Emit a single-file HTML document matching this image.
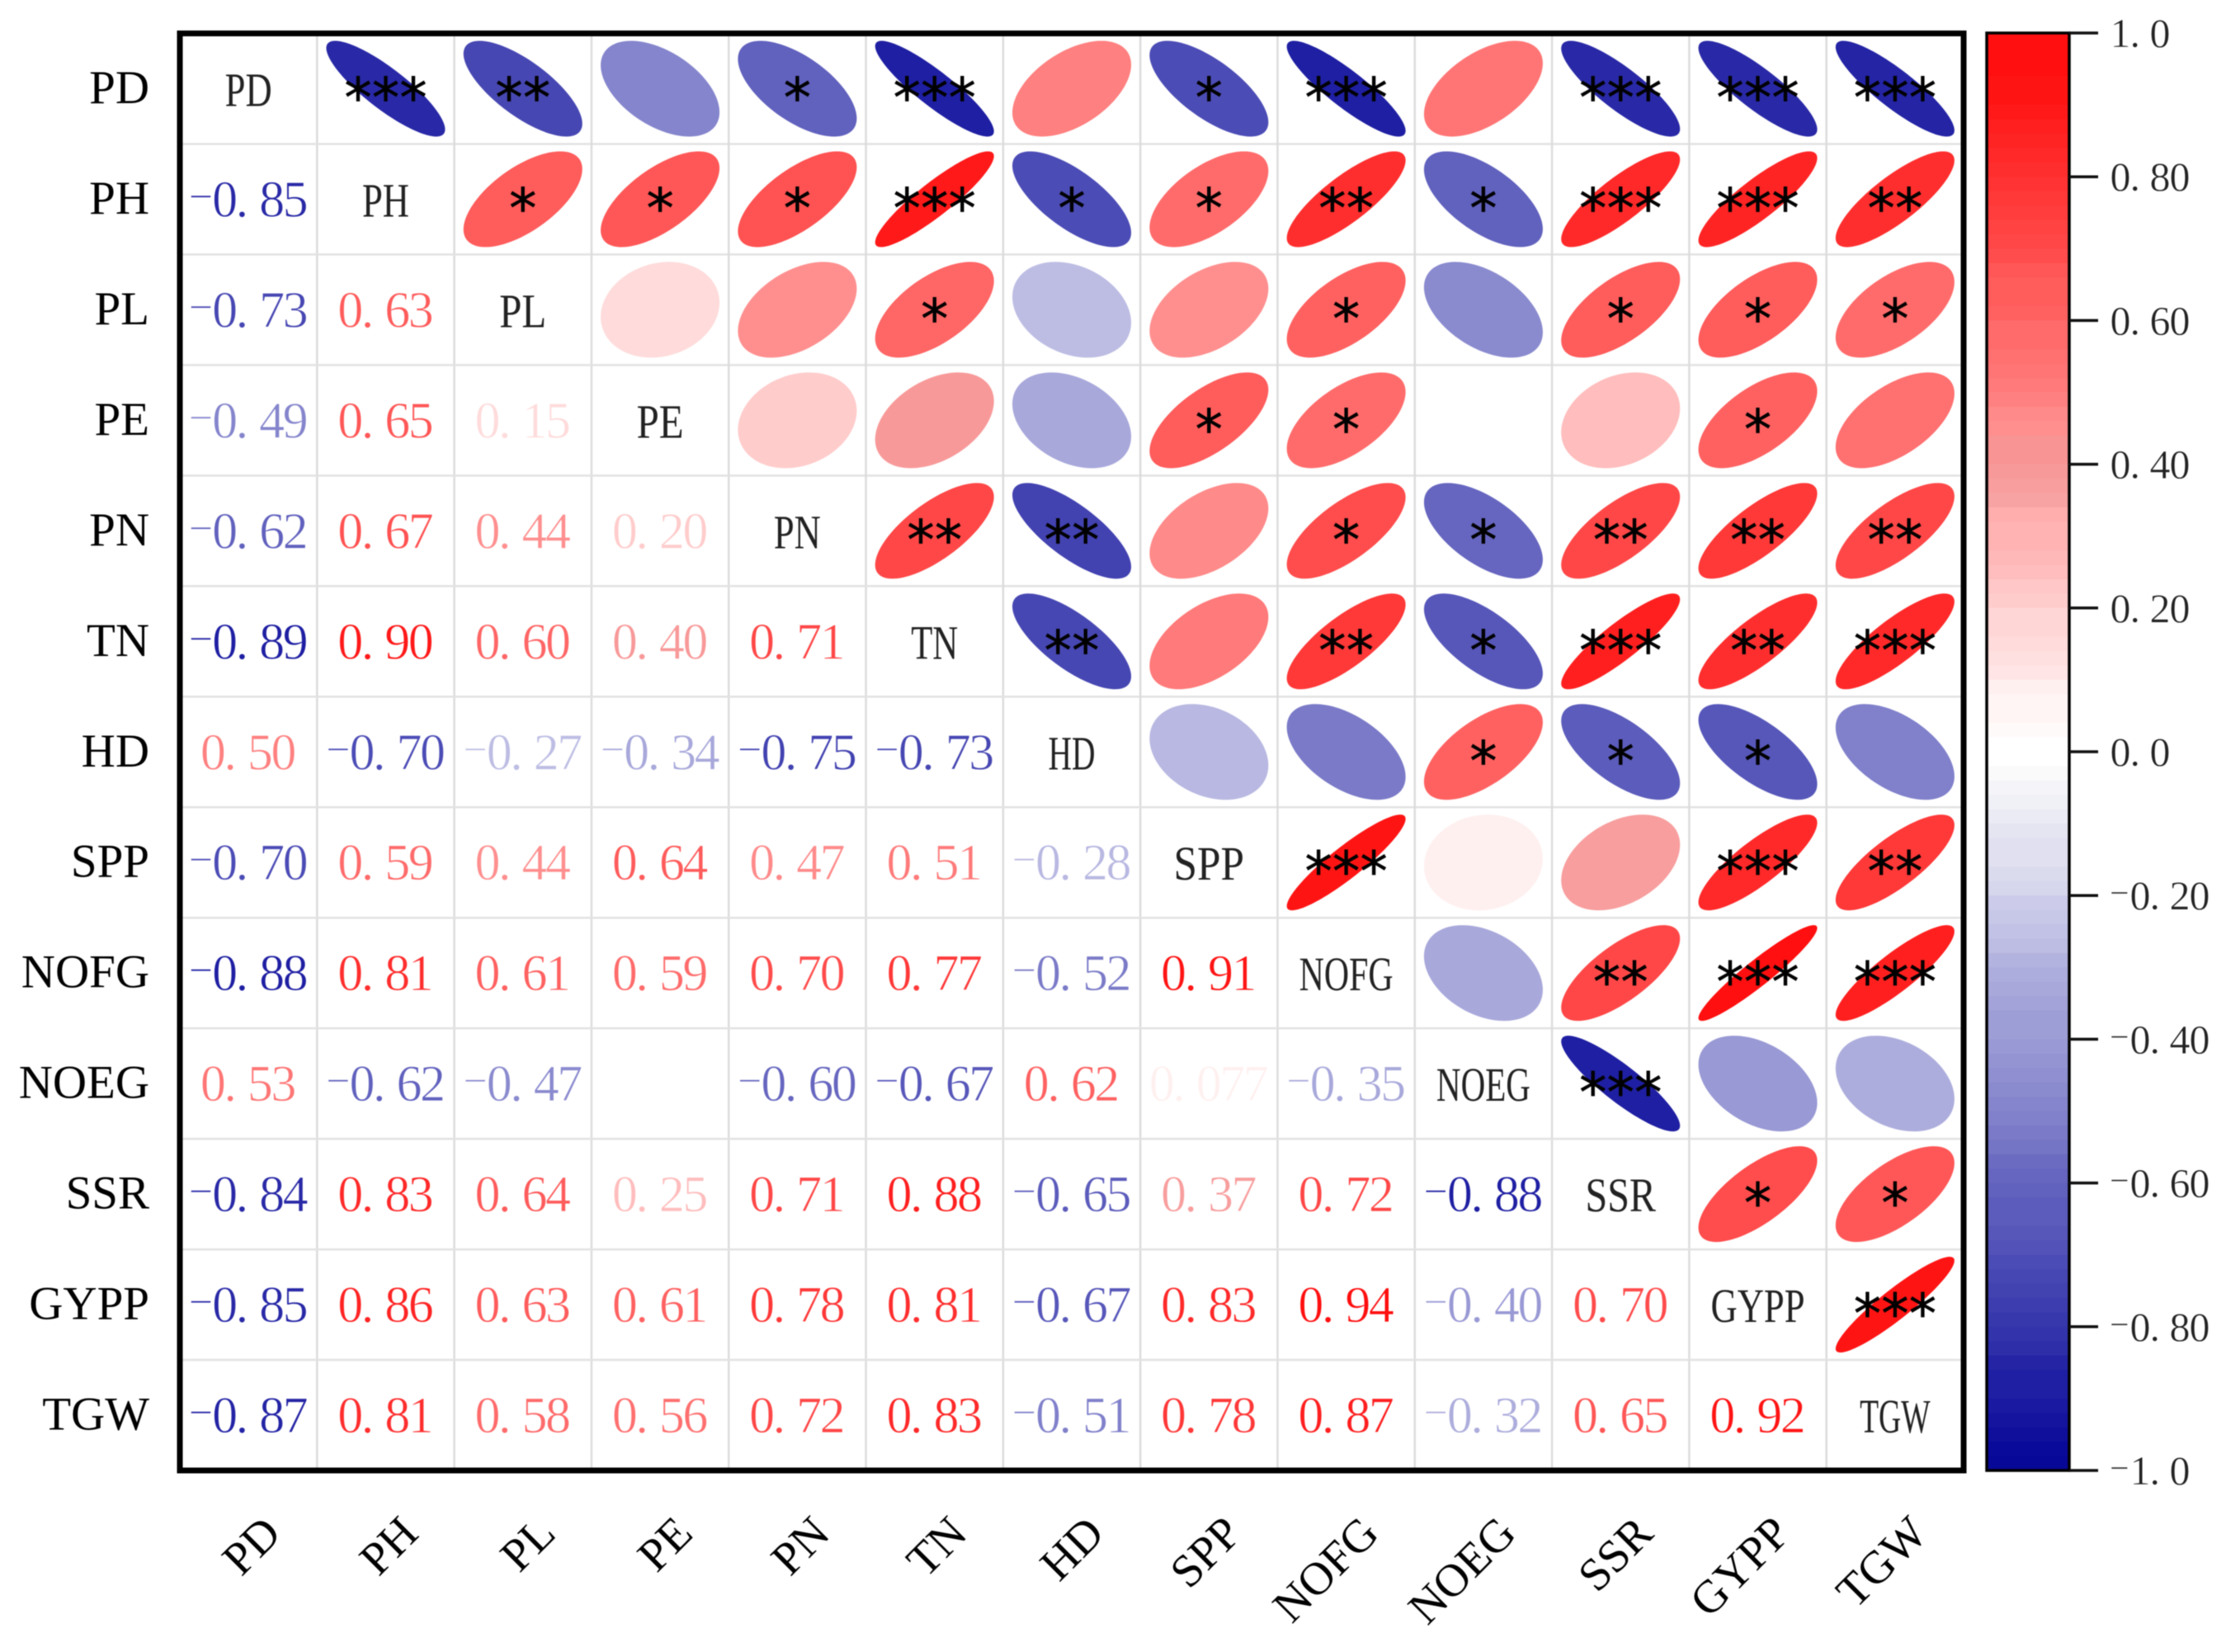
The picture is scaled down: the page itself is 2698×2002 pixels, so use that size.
<!DOCTYPE html>
<html lang="en">
<head>
<meta charset="utf-8">
<title>Correlation matrix</title>
<style>
html,body{margin:0;padding:0;background:#fff;}
#chart{display:block;width:2698px;height:2002px;filter:blur(0.6px);}
text{font-family:"Liberation Serif","Noto Serif CJK SC",serif;}
.stars{font-family:"DejaVu Sans","Liberation Sans",sans-serif;}
</style>
</head>
<body>
<svg id="chart" xmlns="http://www.w3.org/2000/svg" width="2698" height="2002" viewBox="0 0 2698 2002">
  <rect x="0" y="0" width="2698" height="2002" fill="#ffffff"/>
  <g id="grid"></g>
  <g id="ellipses"></g>
  <g id="stars"></g>
  <g id="cells"></g>
  <g id="diag"></g>
  <rect x="218" y="40.5" width="2162" height="1741.5" fill="none" stroke="#000" stroke-width="7"/>
  <g id="yaxis"></g>
  <g id="xaxis"></g>
  <g id="colorbar"></g>
</svg>
<script>
const categories = ["PD","PH","PL","PE","PN","TN","HD","SPP","NOFG","NOEG","SSR","GYPP","TGW"];
const correlations = [
  [],
  [-0.85],
  [-0.73,0.63],
  [-0.49,0.65,0.15],
  [-0.62,0.67,0.44,0.20],
  [-0.89,0.90,0.60,0.40,0.71],
  [0.50,-0.70,-0.27,-0.34,-0.75,-0.73],
  [-0.70,0.59,0.44,0.64,0.47,0.51,-0.28],
  [-0.88,0.81,0.61,0.59,0.70,0.77,-0.52,0.91],
  [0.53,-0.62,-0.47,0.00,-0.60,-0.67,0.62,0.077,-0.35],
  [-0.84,0.83,0.64,0.25,0.71,0.88,-0.65,0.37,0.72,-0.88],
  [-0.85,0.86,0.63,0.61,0.78,0.81,-0.67,0.83,0.94,-0.40,0.70],
  [-0.87,0.81,0.58,0.56,0.72,0.83,-0.51,0.78,0.87,-0.32,0.65,0.92]
];
const significance = [
  ["","***","**","","*","***","","*","***","","***","***","***"],
  ["","","*","*","*","***","*","*","**","*","***","***","**"],
  ["","","","","","*","","","*","","*","*","*"],
  ["","","","","","","","*","*","","","*",""],
  ["","","","","","**","**","","*","*","**","**","**"],
  ["","","","","","","**","","**","*","***","**","***"],
  ["","","","","","","","","","*","*","*",""],
  ["","","","","","","","","***","","","***","**"],
  ["","","","","","","","","","","**","***","***"],
  ["","","","","","","","","","","***","",""],
  ["","","","","","","","","","","","*","*"],
  ["","","","","","","","","","","","","***"],
  ["","","","","","","","","","","","",""]
];
const colorbarTicks = [1.0,0.8,0.6,0.4,0.2,0.0,-0.2,-0.4,-0.6,-0.8,-1.0];
const colorbarTickLabels = ["1.0","0.80","0.60","0.40","0.20","0.0","-0.20","-0.40","-0.60","-0.80","-1.0"];

const NS = "http://www.w3.org/2000/svg";
const PLOT = {l:218, t:40.5, r:2380, b:1782};
const BAR = {l:2408, r:2508, t:40, b:1782};
const n = categories.length;
const cellW = (PLOT.r - PLOT.l) / n;
const cellH = (PLOT.b - PLOT.t) / n;
function xCenter(i){ return PLOT.l + cellW * (i + 0.5); }
function yCenter(i){ return PLOT.t + cellH * (i + 0.5); }
function barY(v){ return BAR.t + (1 - v) / 2 * (BAR.b - BAR.t); }
function colorOf(v){
  const lv = Math.round(v / 0.02) * 0.02;
  const a = Math.min(1, Math.abs(lv));
  const base = a <= 0.03 ? 255 : 255 * (1 - a) + (a < 0.2 ? 5 : 0);
  if (lv >= 0) {
    const g = Math.round(Math.max(15, base));
    const r = (a >= 0.36 && a <= 0.42) ? 248 : 255;
    return "rgb(" + r + "," + g + "," + g + ")";
  }
  const c = Math.round(Math.max(8, base));
  const b = Math.round(255 - 105 * a);
  return "rgb(" + c + "," + c + "," + b + ")";
}
function make(tag, attrs, parent){
  const el = document.createElementNS(NS, tag);
  for (const k in attrs) el.setAttribute(k, attrs[k]);
  parent.appendChild(el);
  return el;
}
function valueLabel(v){
  const a = Math.abs(v);
  return a > 0 && a < 0.1 ? a.toPrecision(2) : a.toFixed(2);
}
/* monospaced number layout with a small raised minus sign */
function fillNumber(el, negative, digits, startX, adv, size, off, minusSize, minusDy){
  let i = 0;
  if (negative) {
    const m = make("tspan", {x:startX - 1, "font-size":minusSize, dy:-minusDy}, el);
    m.textContent = "\u2212";
    i = 1;
  }
  const xs = [];
  for (let k = 0; k < digits.length; k++) xs.push(startX + (i + k) * adv + off);
  const d = make("tspan", {x:xs.join(" "), "font-size":size, dy:negative ? minusDy : 0}, el);
  d.textContent = digits;
}

const gridG = document.getElementById("grid");
for (let i = 1; i < n; i++) {
  const vl = make("line", {x1:PLOT.l + cellW * i, x2:PLOT.l + cellW * i, y1:PLOT.t, y2:PLOT.b, stroke:"#dcdcdc", "stroke-width":2.5}, gridG);
  
  
  const hl = make("line", {x1:PLOT.l, x2:PLOT.r, y1:PLOT.t + cellH * i, y2:PLOT.t + cellH * i, stroke:"#e2e2e2", "stroke-width":2.5}, gridG);
  
  
}

const ellG = document.getElementById("ellipses");
const starG = document.getElementById("stars");
const cellG = document.getElementById("cells");
const diagG = document.getElementById("diag");
const RX = 72, RY = 58;
for (let row = 0; row < n; row++) {
  for (let col = 0; col < n; col++) {
    const cx = xCenter(col), cy = yCenter(row);
    if (row === col) {
      const w = categories[row].length * 28.5;
      const t = make("text", {x:cx - w / 2, y:cy + 21, "font-size":58, fill:"#222", textLength:w, lengthAdjust:"spacingAndGlyphs"}, diagG);
      
      
      t.textContent = categories[row];
    } else if (row > col) {
      const v = correlations[row][col];
      const digits = valueLabel(v);
      const chars = digits.length + (v < 0 ? 1 : 0);
      const startX = cx - chars * 28.5 / 2;
      const t = make("text", {y:cy + 21, fill:colorOf(v), stroke:"#fff", "stroke-width":0.7}, cellG);
      
      
      fillNumber(t, v < 0, digits, startX, 28.5, 62, -1.25, 52, 7);
    } else {
      const v = correlations[col][row];
      const d = Math.acos(v);
      const pts = [];
      for (let k = 0; k < 120; k++) {
        const a = k / 120 * 2 * Math.PI;
        pts.push((cx + RX * Math.cos(a + d / 2)).toFixed(2) + "," + (cy - RY * Math.cos(a - d / 2)).toFixed(2));
      }
      const p = make("polygon", {points:pts.join(" "), fill:colorOf(v)}, ellG);
      
      
      const s = significance[row][col];
      if (s) {
        const xs = [];
        for (let k = 0; k < s.length; k++) xs.push(cx + (k - (s.length - 1) / 2) * 33.5 - 16.5);
        const st = make("text", {x:xs.join(" "), y:cy + 34, "font-size":66, fill:"#000", stroke:"#000", "stroke-width":0.7, class:"stars"}, starG);
        
        
        st.textContent = s;
      }
    }
  }
}

const yG = document.getElementById("yaxis");
const xG = document.getElementById("xaxis");
categories.forEach(function(name, i){
  const yl = make("text", {x:181, y:yCenter(i) + 17.5, "font-size":57, "text-anchor":"end", fill:"#000"}, yG);
  
  
  yl.textContent = name;
  const bx = xCenter(i) + 42, by = 1861;
  const xl = make("text", {x:bx, y:by, "font-size":56, "text-anchor":"end", fill:"#000", transform:"rotate(-45 " + bx + " " + by + ")"}, xG);
  
  
  xl.textContent = name;
});

const barG = document.getElementById("colorbar");
const LEVELS = 100;
for (let i = 0; i < LEVELS; i++) {
  const top = 1 - i * 2 / LEVELS;
  const mid = top - 1 / LEVELS;
  const y1 = barY(top), y2 = barY(top - 2 / LEVELS);
  const b = make("rect", {x:BAR.l, y:y1, width:BAR.r - BAR.l, height:y2 - y1 + 0.6, fill:colorOf(mid)}, barG);
  
  
}
const barBox = make("rect", {x:BAR.l, y:BAR.t, width:BAR.r - BAR.l, height:BAR.b - BAR.t, fill:"none", stroke:"#000", "stroke-width":3.5}, barG);


colorbarTicks.forEach(function(v, i){
  const y = barY(v);
  const tk = make("line", {x1:BAR.r, x2:2543, y1:y, y2:y, stroke:"#111", "stroke-width":3.5}, barG);
  
  
  const lab = colorbarTickLabels[i];
  const neg = lab.charAt(0) === "-";
  const t = make("text", {y:y + 17, fill:"#222", stroke:"#fff", "stroke-width":0.5}, barG);
  
  
  fillNumber(t, neg, neg ? lab.slice(1) : lab, 2558, 24, 50, -0.5, 42, 6);
});
</script>
</body>
</html>
